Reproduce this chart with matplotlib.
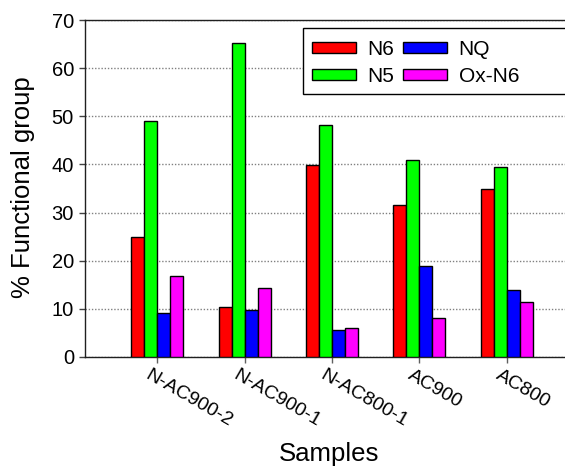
import matplotlib
matplotlib.use("Agg")
import matplotlib.pyplot as plt
import matplotlib.transforms as mtransforms
from matplotlib.patches import Rectangle
import numpy as np

plt.rcParams['font.family'] = ['Liberation Sans', 'DejaVu Sans']

samples = ["N-AC900-2", "N-AC900-1", "N-AC800-1", "AC900", "AC800"]
groups = ["N6", "N5", "NQ", "Ox-N6"]
colors = ["#ff0000", "#00ff00", "#0000ff", "#ff00ff"]

n6 = [24.9, 10.4, 39.9, 31.6, 34.8]
n5 = [49.0, 65.3, 48.1, 40.9, 39.5]
nq = [9.1, 9.8, 5.6, 18.9, 13.9]
ox_n6 = [16.9, 14.3, 6.1, 8.2, 11.5]
values = [n6, n5, nq, ox_n6]

W, H = 565, 472
fig = plt.figure(figsize=(W / 100, H / 100), dpi=100)
# axes box in pixels: left 85, right 565, top 20, bottom 357
ax = fig.add_axes([85 / W, (H - 357) / H, (565 - 85) / W, (357 - 20) / H])

x = np.arange(len(samples))
w = 0.1486
for i, (name, vals) in enumerate(zip(groups, values)):
    ax.bar(x + (i - 1.5) * w, vals, width=w, color=colors[i],
           edgecolor="black", linewidth=1.0, label=name, zorder=3)

ax.set_xlim(-0.823, 4.663)
ax.set_ylim(0, 70)
ax.set_yticks(np.arange(0, 71, 10))
ax.set_xticks(x)
ax.set_xticklabels(samples)

ax.set_axisbelow(True)
ax.yaxis.grid(True, color="#808080", linestyle=(0, (1, 1.3)), linewidth=1.0)
ax.xaxis.grid(False)

for s in ["left", "top", "bottom"]:
    ax.spines[s].set_color("#202020")
    ax.spines[s].set_linewidth(1.0)
ax.spines["right"].set_visible(False)

ax.tick_params(axis="y", direction="out", length=4, width=1, color="#404040",
               labelsize=14.5, pad=4)
ax.tick_params(axis="x", direction="out", length=4, width=1, color="#606060",
               labelsize=14, pad=3)

offset = mtransforms.ScaledTranslation(-0.06, 0, fig.dpi_scale_trans)
for lab in ax.get_xticklabels():
    lab.set_rotation(-30)
    lab.set_rotation_mode("anchor")
    lab.set_ha("left")
    lab.set_va("top")
    lab.set_transform(lab.get_transform() + offset)

ax.set_xlabel("Samples", fontsize=18.5, va="center")
ax.xaxis.set_label_coords(0.508, -0.288)
ax.set_ylabel("% Functional group", fontsize=18.5, va="center")
ax.yaxis.set_label_coords(-0.129, 0.503)

# legend frame runs off the right edge
frame = Rectangle((303 / W, (H - 94) / H), (580 - 303) / W, (94 - 28) / H,
                  transform=fig.transFigure, facecolor="white",
                  edgecolor="black", linewidth=1.0, zorder=5, clip_on=False)
fig.add_artist(frame)
leg = fig.legend(loc="upper left", bbox_to_anchor=(312 / W, (H - 40) / H),
                 ncol=2, frameon=False, fontsize=15, handlelength=2.1,
                 handleheight=0.42, handletextpad=0.55, columnspacing=0.45,
                 labelspacing=0.38, borderpad=0, borderaxespad=0)
leg.set_zorder(6)
for h in leg.legend_handles:
    h.set_linewidth(1.0)

fig.savefig("out.png", dpi=100)
